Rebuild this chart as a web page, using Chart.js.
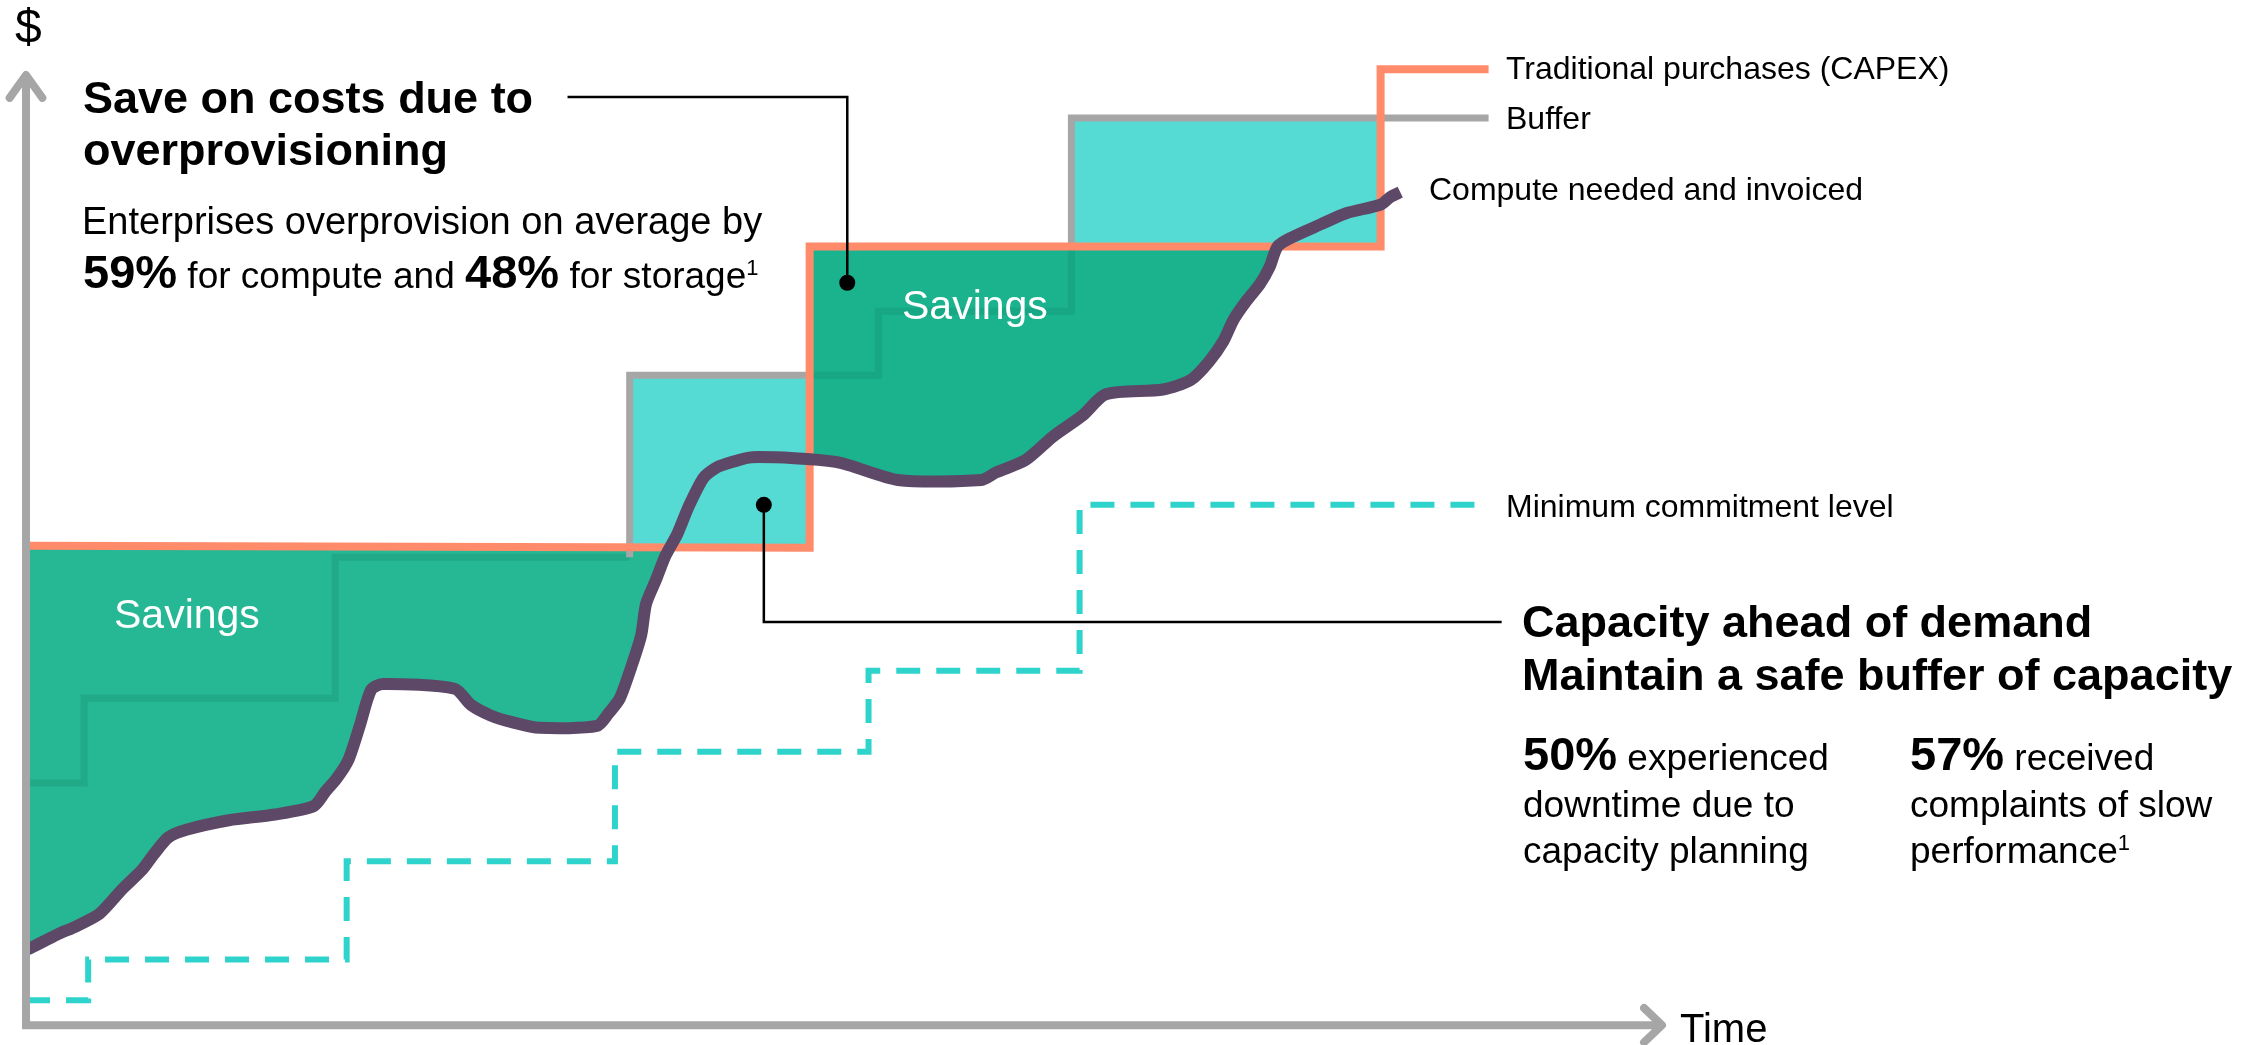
<!DOCTYPE html>
<html>
<head>
<meta charset="utf-8">
<script src="https://cdn.jsdelivr.net/npm/chart.js"></script>
<style>
    html, body { margin: 0; padding: 0; background: #ffffff; }
    #wrap { position: relative; width: 2267px; height: 1045px; overflow: hidden;
            font-family: 'Liberation Sans', Arial, sans-serif; color: #000000; }
    #chart { position: absolute; left: 0; top: 0; }
    .t { position: absolute; white-space: nowrap; line-height: 1; }
    .b { font-weight: bold; }
    .w { color: #ffffff; }
    .r { font-size: 37px; font-weight: normal; }
    .sup { font-size: 22px; font-weight: normal; position: relative; top: -13px; }
</style>
</head>
<body>
<div id="wrap">
    <canvas id="chart" width="2267" height="1045"></canvas>

    <div class="t" style="left:15px;top:3px;font-size:48px">$</div>

    <div class="t b" style="left:83px;top:75px;font-size:45px">Save on costs due to</div>
    <div class="t b" style="left:83px;top:127px;font-size:45px">overprovisioning</div>
    <div class="t" style="left:82px;top:202px;font-size:38px">Enterprises overprovision on average by</div>
    <div class="t" style="left:83px;top:248px;font-size:47px"><b>59%</b><span class="r"> for compute and </span><b>48%</b><span class="r"> for storage</span><span class="sup">1</span></div>

    <div class="t w" style="left:114px;top:594px;font-size:41px">Savings</div>
    <div class="t w" style="left:902px;top:285px;font-size:41px">Savings</div>

    <div class="t" style="left:1506px;top:52px;font-size:32px">Traditional purchases (CAPEX)</div>
    <div class="t" style="left:1506px;top:102px;font-size:32px">Buffer</div>
    <div class="t" style="left:1429px;top:173px;font-size:32px">Compute needed and invoiced</div>
    <div class="t" style="left:1506px;top:490px;font-size:32px">Minimum commitment level</div>

    <div class="t b" style="left:1522px;top:599px;font-size:45px">Capacity ahead of demand</div>
    <div class="t b" style="left:1522px;top:652px;font-size:45px">Maintain a safe buffer of capacity</div>
    <div class="t" style="left:1523px;top:730px;font-size:47px"><b>50%</b><span class="r"> experienced</span></div>
    <div class="t" style="left:1523px;top:786px;font-size:37px">downtime due to</div>
    <div class="t" style="left:1523px;top:832px;font-size:37px">capacity planning</div>
    <div class="t" style="left:1910px;top:730px;font-size:47px"><b>57%</b><span class="r"> received</span></div>
    <div class="t" style="left:1910px;top:786px;font-size:37px">complaints of slow</div>
    <div class="t" style="left:1910px;top:832px;font-size:37px">performance<span class="sup">1</span></div>

    <div class="t" style="left:1680px;top:1008px;font-size:40px">Time</div>
</div>

<script>
    /* Values: time runs 0-100 left to right, cost 0-100 bottom to top */

    // Traditional purchases (CAPEX) step line
    const capexT = [0, 47.9, 47.9, 82.8, 82.8, 89.4];
    const capexV = [50.6, 50.4, 82.0, 82.0, 100.6, 100.6];

    // Buffer step line (hidden parts show through the savings area)
    const bufferT = [0, 3.55, 3.55, 18.9, 18.9, 36.9, 36.9, 47.9, 52.1, 52.1, 63.9, 63.9, 63.9, 89.4];
    const bufferV = [25.7, 25.7, 34.6, 34.6, 49.4, 49.4, 68.5, 68.5, 68.5, 75.2, 75.2, 82.0, 95.5, 95.5];

    // Minimum commitment level (dashed)
    const commitT = [0, 3.8, 3.8, 19.6, 19.6, 36.0, 36.0, 51.5, 51.5, 64.4, 64.4, 89.4];
    const commitV = [2.9, 2.9, 7.2, 7.2, 17.5, 17.5, 29.0, 29.0, 37.5, 37.5, 54.9, 54.9];

    // Compute needed and invoiced
    const computeT = [0, 0.3, 1.9, 3.1, 4.5, 5.9, 7.1, 7.8, 8.7, 9.8, 12.4, 15.2, 17.6, 18.3, 19.0,
        19.7, 20.4, 21.1, 21.8, 26.2, 27.2, 28.4, 29.7, 31.4, 34.9, 35.6, 36.3, 37.0, 37.6, 37.9,
        38.5, 39.1, 39.8, 40.5, 41.4, 42.1, 42.8, 44.4, 49.5, 53.3, 58.4, 59.3, 61.1, 62.8, 64.6,
        66.0, 69.5, 71.2, 72.3, 73.2, 73.8, 74.6, 75.4, 76.0, 76.5, 77.3, 79.1, 80.7, 82.8, 83.4, 84.0];
    const computeV = [8.2, 8.4, 9.8, 10.7, 12.0, 14.6, 16.6, 18.2, 20.0, 20.8, 21.8, 22.4, 23.3, 24.8, 26.2,
        28.1, 31.7, 35.5, 36.1, 35.6, 33.9, 32.8, 32.1, 31.5, 31.7, 33.0, 34.6, 37.9, 41.2, 44.5,
        47.0, 49.6, 51.8, 54.7, 57.7, 58.7, 59.2, 59.9, 59.4, 57.5, 57.5, 58.3, 59.6, 62.1, 64.3,
        66.5, 67.0, 68.0, 69.9, 72.1, 74.3, 76.3, 78.0, 79.8, 82.0, 82.9, 84.3, 85.5, 86.4, 87.2, 87.7];

    // Axes with arrow heads
    const axisT = [0, 0, 100];
    const axisV = [99.5, 0.3, 0.3];
    const yArrowT = [-1.0, 0, 1.0];
    const yArrowV = [97.6, 100, 97.6];
    const xArrowT = [98.9, 100, 98.9];
    const xArrowV = [2.1, 0.3, -1.5];

    // Callout leaders
    const leaderSaveT = [33.1, 50.2, 50.2];
    const leaderSaveV = [97.7, 97.7, 78.2];
    const leaderAheadT = [45.1, 45.1, 90.2];
    const leaderAheadV = [54.9, 42.6, 42.6];

    /* Colours */
    const grey = '#A6A6A6';
    const orange = '#FF8B6B';
    const aqua = '#55DBD3';
    const green1 = '#26B794';
    const green2 = '#1BB28E';
    const greenDark1 = '#20AA88';
    const greenDark2 = '#17A784';
    const purple = '#5E4868';
    const dashed = '#2ED3CB';
    const none = 'rgba(0,0,0,0)';

    const pts = (xs, ys) => xs.map((x, i) => ({ x: x, y: ys[i] }));

    // level of the CAPEX line at a given time
    const capexAt = (t) => {
        let lvl = capexV[0];
        capexT.forEach((x, i) => { if (x <= t) lvl = capexV[i]; });
        return lvl;
    };

    new Chart(document.getElementById('chart'), {
        type: 'line',
        data: {
            datasets: [
                { // 0
                    label: 'axes', data: pts(axisT, axisV), order: 0,
                    borderColor: grey, borderWidth: 8, borderJoinStyle: 'miter',
                },
                { // 1
                    label: 'y arrow', data: pts(yArrowT, yArrowV), order: 0,
                    borderColor: grey, borderWidth: 8, borderJoinStyle: 'round', borderCapStyle: 'round',
                },
                { // 2
                    label: 'x arrow', data: pts(xArrowT, xArrowV), order: 0,
                    borderColor: grey, borderWidth: 8, borderJoinStyle: 'round', borderCapStyle: 'round',
                },
                { // 3
                    label: 'leader save', data: pts(leaderSaveT, leaderSaveV), order: 0,
                    borderColor: '#000000', borderWidth: 2.5, borderJoinStyle: 'miter',
                    pointRadius: [0, 0, 8], pointBackgroundColor: '#000000', pointBorderWidth: 0,
                },
                { // 4
                    label: 'leader ahead', data: pts(leaderAheadT, leaderAheadV), order: 0,
                    borderColor: '#000000', borderWidth: 2.5, borderJoinStyle: 'miter',
                    pointRadius: [8, 0, 0], pointBackgroundColor: '#000000', pointBorderWidth: 0,
                },
                { // 5
                    label: 'Compute needed and invoiced', data: pts(computeT, computeV), order: 1,
                    borderColor: purple, borderWidth: 12, tension: 0.25,
                    borderJoinStyle: 'round',
                },
                { // 6
                    label: 'Minimum commitment level', data: pts(commitT, commitV), order: 2,
                    borderColor: dashed, borderWidth: 6, borderDash: [24, 16], borderJoinStyle: 'miter',
                },
                { // 7
                    label: 'Traditional purchases (CAPEX)', data: pts(capexT, capexV), order: 3,
                    borderColor: orange, borderWidth: 8, borderJoinStyle: 'miter',
                },
                { // 8
                    label: 'Buffer', data: pts(bufferT, bufferV), order: 4,
                    borderColor: grey, borderWidth: 7, borderJoinStyle: 'miter',
                    fill: { target: 7, above: aqua, below: none },
                    segment: {
                        borderColor: (ctx) => {
                            const i = ctx.p0DataIndex;
                            const j = ctx.p1DataIndex;
                            const lvl = capexAt((bufferT[i] + bufferT[j]) / 2);
                            if (Math.max(bufferV[i], bufferV[j]) > lvl + 0.01) return grey;
                            return lvl < 60 ? greenDark1 : greenDark2;
                        },
                    },
                },
                { // 9  savings before the first purchase step
                    label: 'Savings', data: pts(capexT.slice(0, 2), capexV.slice(0, 2)), order: 5,
                    borderColor: none, borderWidth: 0,
                    fill: { target: 5, above: green1, below: none },
                },
                { // 10 savings after the first purchase step
                    label: 'Savings', data: pts(capexT.slice(2, 4), capexV.slice(2, 4)), order: 5,
                    borderColor: none, borderWidth: 0,
                    fill: { target: 5, above: green2, below: none },
                },
            ],
        },
        options: {
            responsive: false,
            animation: false,
            events: [],
            layout: {
                padding: { left: 26, top: 75, right: 605, bottom: 17 },
            },
            datasets: {
                line: {
                    clip: false,
                    pointRadius: 0,
                    borderCapStyle: 'butt',
                },
            },
            scales: {
                x: { type: 'linear', min: 0, max: 100, display: false },
                y: { type: 'linear', min: 0, max: 100, display: false },
            },
            plugins: {
                legend: { display: false },
                tooltip: { enabled: false },
            },
        },
    });
</script>
</body>
</html>
